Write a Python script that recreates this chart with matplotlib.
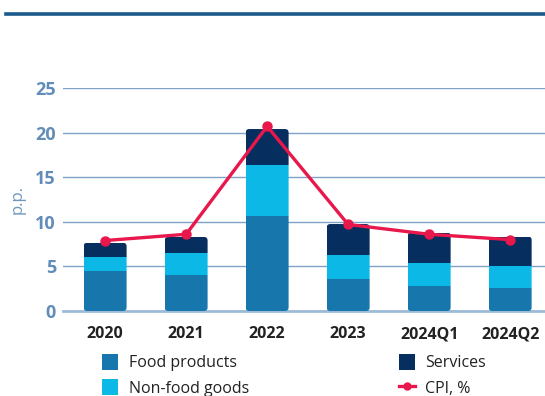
import matplotlib
matplotlib.use("Agg")
import matplotlib.pyplot as plt
from matplotlib.patches import FancyBboxPatch, Patch
from matplotlib.lines import Line2D
import numpy as np

categories = ["2020", "2021", "2022", "2023", "2024Q1", "2024Q2"]
food = [4.5, 4.0, 10.7, 3.6, 2.8, 2.6]
non_food = [1.55, 2.45, 5.7, 2.65, 2.6, 2.45]
services = [1.6, 1.85, 4.0, 3.5, 3.4, 3.3]
cpi = [7.9, 8.6, 20.7, 9.7, 8.6, 8.0]
y_ticks = [0, 5, 10, 15, 20, 25]

C_FOOD = "#1776ab"
C_NONFOOD = "#0cb9e6"
C_SERV = "#062e5f"
C_CPI = "#e8174c"
C_GRID = "#7ea3c6"
C_TICK = "#628db8"

plt.rcParams["font.family"] = ["Open Sans", "DejaVu Sans"]

fig = plt.figure(figsize=(5.45, 3.96), dpi=100)
W, H = 545, 396
ax = fig.add_axes([63 / W, 1 - 311 / H, (545 - 63) / W, (311 - 88) / H])

x = np.arange(len(categories))
width = 0.53

bottom1 = np.array(food)
bottom2 = bottom1 + np.array(non_food)
totals = bottom2 + np.array(services)

segs = []
segs.append(ax.bar(x, food, width, color=C_FOOD, zorder=3))
segs.append(ax.bar(x, non_food, width, bottom=bottom1, color=C_NONFOOD, zorder=3))
segs.append(ax.bar(x, services, width, bottom=bottom2, color=C_SERV, zorder=3))

# Round the corners of each stacked column with a shared clip shape
for i, xi in enumerate(x):
    clip = FancyBboxPatch((xi - width / 2, 0), width, totals[i],
                          boxstyle="round,pad=0,rounding_size=0.045",
                          mutation_aspect=9.0, transform=ax.transData,
                          facecolor="none", edgecolor="none")
    ax.add_patch(clip)
    for s in segs:
        s[i].set_clip_path(clip)

ax.plot(x, cpi, color=C_CPI, lw=2.4, marker="o", ms=6.5, zorder=5,
        solid_joinstyle="round")

ax.set_xlim(-0.52, 5.43)
ax.set_ylim(0, 25)
ax.set_yticks(y_ticks)
ax.set_xticks(x)
ax.set_xticklabels(categories)
ax.grid(axis="y", color=C_GRID, lw=1.0, zorder=0)
ax.set_axisbelow(True)
for sp in ["top", "right", "left"]:
    ax.spines[sp].set_visible(False)
ax.spines["bottom"].set_color("#9dbbd6")
ax.spines["bottom"].set_linewidth(2.0)
ax.tick_params(axis="y", length=0, pad=5, labelsize=13, labelcolor=C_TICK)
ax.tick_params(axis="x", length=0, pad=11, labelsize=11.5, labelcolor="#222222")
for t in ax.get_yticklabels():
    t.set_fontweight("bold")
for t in ax.get_xticklabels():
    t.set_fontweight("bold")

fig.text(18 / W, 1 - 200 / H, "p.p.", rotation=90, color="#6f96bd",
         fontsize=12, ha="center", va="center")

# Header rule
fig.add_artist(Line2D([6 / W, 1.0], [1 - 14 / H, 1 - 14 / H], color="#1d5a8c",
                      lw=2.6, transform=fig.transFigure))

handles = [
    Patch(facecolor=C_FOOD, label="Food products"),
    Patch(facecolor=C_NONFOOD, label="Non-food goods"),
    Patch(facecolor=C_SERV, label="Services"),
    Line2D([0], [0], color=C_CPI, lw=2.4, marker="o", ms=5, label="CPI, %"),
]
fig.legend(handles=handles, ncol=2, loc="upper left",
           bbox_to_anchor=(88 / W, 1 - 340 / H), frameon=False,
           fontsize=11.5, handlelength=1.0, handleheight=1.1,
           handletextpad=0.65, columnspacing=9.4, labelspacing=0.5,
           labelcolor="#222222")

fig.savefig("out.png", dpi=100)
